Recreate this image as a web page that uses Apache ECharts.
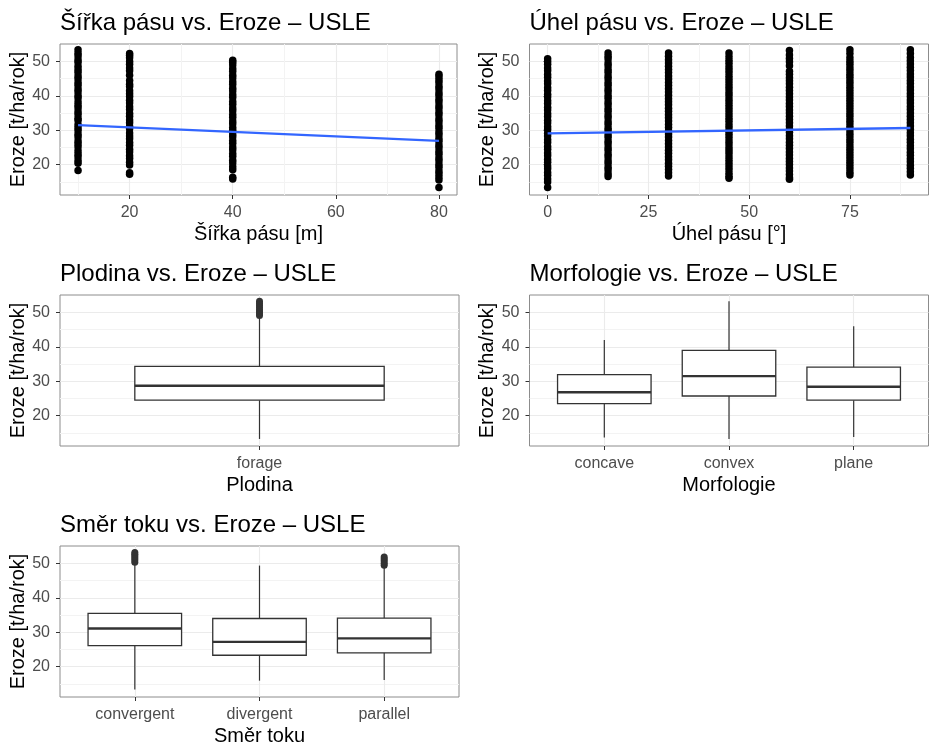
<!DOCTYPE html>
<html>
<head>
<meta charset="utf-8">
<script src="https://cdn.jsdelivr.net/npm/echarts@6/dist/echarts.min.js"></script>
<style>
  html, body { margin: 0; padding: 0; background: #fff; }
  #chart { width: 934px; height: 747px; }
</style>
</head>
<body>
<div id="chart"></div>
<script>
// ---- data ----
const widthLevels = [10, 20, 40, 80];
const erozeW10 = [18.3, 20.4, 21.2, 22.3, 23.1, 24.0, 25.2, 26.1, 26.9, 28.0, 28.8, 29.9, 30.7, 31.6, 32.8, 33.5, 34.6, 35.4, 36.5, 37.3, 38.2, 39.4, 40.1, 41.2, 42.0, 43.1, 43.9, 45.0, 45.8, 46.9, 47.7, 48.6, 49.8, 50.5, 51.6, 52.4, 53.4];
const erozeW20 = [17.2, 17.6, 19.9, 20.7, 21.8, 22.6, 23.7, 24.5, 25.6, 26.4, 27.5, 28.3, 29.2, 30.4, 31.1, 32.2, 33.0, 34.1, 34.9, 36.0, 36.8, 37.9, 38.7, 39.8, 40.6, 41.5, 42.7, 43.4, 44.5, 46.0, 47.3, 48.1, 49.2, 50.0, 51.1, 51.8, 52.3];
const erozeW40 = [15.8, 16.3, 18.5, 19.4, 20.5, 21.3, 22.4, 23.2, 24.3, 25.1, 26.2, 27.0, 28.1, 28.9, 30.0, 30.8, 31.9, 32.7, 33.8, 34.6, 35.7, 36.5, 37.6, 38.4, 39.5, 40.3, 41.4, 42.2, 43.3, 44.1, 45.2, 46.0, 47.1, 47.9, 49.0, 49.8, 50.4];
const erozeW80 = [13.3, 15.5, 16.4, 17.3, 18.1, 19.2, 20.0, 21.1, 21.9, 23.0, 23.8, 24.9, 25.7, 26.8, 27.6, 28.7, 29.5, 30.6, 31.4, 32.5, 33.3, 34.4, 35.2, 36.3, 37.1, 38.2, 39.0, 40.1, 40.9, 42.0, 42.8, 43.9, 44.7, 45.6, 46.3];
const widthFit = [[10, 31.5], [80, 26.9]];

const angleLevels = [0, 15, 30, 45, 60, 75, 90];
const erozeA0 = [13.3, 14.9, 15.8, 16.9, 17.7, 18.8, 19.6, 20.7, 21.5, 22.6, 23.4, 24.5, 25.3, 26.4, 27.2, 28.3, 29.1, 30.2, 31.0, 32.1, 32.9, 34.0, 34.8, 35.9, 36.7, 37.8, 38.6, 39.7, 40.5, 41.6, 42.4, 43.5, 44.3, 45.4, 46.2, 47.3, 48.1, 49.2, 50.0, 50.8];
const erozeA15 = [16.5, 17.3, 18.4, 19.2, 20.3, 21.1, 22.2, 23.0, 24.1, 24.9, 26.0, 26.8, 27.9, 28.7, 29.8, 30.6, 31.7, 32.5, 33.6, 34.4, 35.5, 36.3, 37.4, 38.2, 39.3, 40.1, 41.2, 42.0, 43.1, 43.9, 45.0, 45.8, 46.9, 47.7, 48.8, 49.6, 50.7, 51.5, 52.5];
const erozeA30 = [16.7, 17.6, 18.6, 19.5, 20.4, 21.4, 22.3, 23.3, 24.2, 25.1, 26.1, 27.0, 28.0, 28.9, 29.8, 30.8, 31.7, 32.7, 33.6, 34.5, 35.5, 36.4, 37.4, 38.3, 39.2, 40.2, 41.1, 42.1, 43.0, 43.9, 44.9, 45.8, 46.8, 47.7, 48.6, 49.6, 50.5, 51.5, 52.5];
const erozeA45 = [16.0, 16.6, 17.5, 18.5, 19.4, 20.3, 21.3, 22.2, 23.2, 24.1, 25.0, 26.0, 26.9, 27.9, 28.8, 29.7, 30.7, 31.6, 32.6, 33.5, 34.4, 35.4, 36.3, 37.3, 38.2, 39.1, 40.1, 41.0, 42.0, 42.9, 43.8, 44.8, 45.7, 46.7, 47.6, 48.5, 49.5, 50.4, 51.4, 52.5];
const erozeA60 = [15.7, 16.2, 17.1, 18.1, 19.0, 20.0, 20.9, 21.8, 22.8, 23.7, 24.7, 25.6, 26.5, 27.5, 28.4, 29.4, 30.3, 31.2, 32.2, 33.1, 34.1, 35.0, 35.9, 36.9, 37.8, 38.8, 39.7, 40.6, 41.6, 42.5, 43.5, 44.4, 45.3, 46.3, 47.2, 48.8, 49.9, 50.9, 51.9, 53.2];
const erozeA75 = [17.0, 17.8, 18.8, 19.7, 20.7, 21.6, 22.6, 23.5, 24.5, 25.4, 26.4, 27.3, 28.3, 29.2, 30.2, 31.1, 32.1, 33.0, 34.0, 34.9, 35.9, 36.8, 37.8, 38.7, 39.7, 40.6, 41.6, 42.5, 43.5, 44.4, 45.4, 46.3, 47.3, 48.2, 49.2, 50.1, 51.1, 52.3, 53.4];
const erozeA90 = [17.0, 17.9, 18.9, 19.8, 20.8, 21.7, 22.7, 23.6, 24.6, 25.5, 26.5, 27.4, 28.4, 29.3, 30.3, 31.2, 32.2, 33.1, 34.1, 35.0, 36.0, 36.9, 37.9, 38.8, 39.8, 40.7, 41.7, 42.6, 43.6, 44.5, 45.5, 46.4, 47.4, 48.3, 49.3, 50.2, 51.2, 52.3, 53.4];
const angleFit = [[0, 29.1], [90, 30.65]];

// boxplots: [min, q1, median, q3, max]
const cropCats = ['forage'];
const cropBox = [[13.2, 24.5, 28.7, 34.3, 48.9]];
const cropOut = [[49.1, 49.7, 50.3, 50.9, 51.5, 52.1, 52.7, 53.3]];

const morphCats = ['concave', 'convex', 'plane'];
const morphBox = [[13.6, 23.5, 26.8, 31.9, 42.0], [13.2, 25.7, 31.5, 39.0, 53.3], [13.8, 24.5, 28.4, 34.1, 46.0]];

const flowCats = ['convergent', 'divergent', 'parallel'];
const flowBox = [[13.3, 26.1, 31.1, 35.5, 50.0], [15.9, 23.3, 27.2, 34.0, 49.4], [16.1, 24.0, 28.2, 34.1, 49.3]];
const flowOut = [[50.4, 51.0, 51.6, 52.2, 52.7, 53.2], [], [49.5, 50.1, 50.7, 51.3, 51.9]];

const yTicks = [20, 30, 40, 50];
const yMinor = [15, 25, 35, 45];
const widthTicks = [20, 40, 60, 80];
const widthMinor = [10, 30, 50, 70];
const angleTicks = [0, 25, 50, 75];
const angleMinor = [12.5, 37.5, 62.5, 87.5];

// ---- layout / style ----
const FONT = 'Liberation Sans, Arial, sans-serif';
const Y_MIN = 11.15, Y_MAX = 55.1;
const BOX_W = 0.75;

let grids = [], xAxes = [], yAxes = [], series = [], titles = [];

function tickAxis(g, min, max, ticks, labels, fmt) {
  return {
    type: 'value', gridIndex: g, min: min, max: max,
    axisLine: { show: false },
    axisTick: { show: true, length: 4, customValues: ticks, lineStyle: { color: '#333', width: 1 } },
    axisLabel: { customValues: labels, color: '#4d4d4d', fontSize: 16, margin: 10, fontFamily: FONT, formatter: fmt },
    splitLine: { show: true, lineStyle: { color: '#ebebeb', width: 1.1 } },
    nameLocation: 'middle',
    nameTextStyle: { color: '#000', fontSize: 20, fontFamily: FONT },
    nameMoveOverlap: false
  };
}

function minorAxis(g, min, max, ticks, pos) {
  return {
    type: 'value', gridIndex: g, min: min, max: max, position: pos,
    axisLine: { show: false },
    axisTick: { show: false, customValues: ticks },
    axisLabel: { show: false, customValues: ticks },
    splitLine: { show: true, lineStyle: { color: '#f3f3f3', width: 1 } }
  };
}

function addPanel(box, title, xa, xMinorTicks, xName) {
  const g = grids.length;
  grids.push({
    left: box[0], top: box[1], width: box[2], height: box[3],
    show: true, borderColor: '#8c8c8c', borderWidth: 1, backgroundColor: '#fff',
    containLabel: false, outerBoundsMode: 'none'
  });
  titles.push({
    text: title, left: box[0], top: box[1] - 32.5, padding: 0,
    textStyle: { color: '#000', fontSize: 24, fontWeight: 'normal', fontFamily: FONT }
  });
  const xi = xAxes.length;
  xa.name = xName;
  xa.nameGap = 29;
  xa.position = 'bottom';
  xAxes.push(xa);
  if (xMinorTicks) xAxes.push(minorAxis(g, xa.min, xa.max, xMinorTicks, 'top'));
  const yi = yAxes.length;
  const ya = tickAxis(g, Y_MIN, Y_MAX, yTicks, yTicks);
  ya.name = 'Eroze [t/ha/rok]';
  ya.nameGap = 32;
  ya.position = 'left';
  yAxes.push(ya);
  yAxes.push(minorAxis(g, Y_MIN, Y_MAX, yMinor, 'right'));
  return { x: xi, y: yi };
}

function pointsOf(levels, cols) {
  const out = [];
  cols.forEach((col, i) => col.forEach(v => out.push([levels[i], v])));
  return out;
}

function scatterPanel(ax, data, fit) {
  series.push({
    type: 'scatter', xAxisIndex: ax.x, yAxisIndex: ax.y, data: data,
    symbolSize: 7.5, itemStyle: { color: '#000', opacity: 1 }, silent: true
  });
  series.push({
    type: 'line', xAxisIndex: ax.x, yAxisIndex: ax.y, data: fit,
    symbol: 'none', lineStyle: { color: '#3366FF', width: 2.3 }, silent: true
  });
}

function renderBox(params, api) {
  const x = api.value(0);
  const left = api.coord([x - BOX_W / 2, api.value(2)]);
  const right = api.coord([x + BOX_W / 2, api.value(4)]);
  const mid = api.coord([x, api.value(3)]);
  const lo = api.coord([x, api.value(1)]);
  const hi = api.coord([x, api.value(5)]);
  const ln = { stroke: '#333', lineWidth: 1.2 };
  return {
    type: 'group',
    children: [
      { type: 'line', shape: { x1: lo[0], y1: lo[1], x2: lo[0], y2: left[1] }, style: ln },
      { type: 'line', shape: { x1: hi[0], y1: right[1], x2: hi[0], y2: hi[1] }, style: ln },
      { type: 'rect', shape: { x: left[0], y: right[1], width: right[0] - left[0], height: left[1] - right[1] },
        style: { fill: '#fff', stroke: '#333', lineWidth: 1.3 } },
      { type: 'line', shape: { x1: left[0], y1: mid[1], x2: right[0], y2: mid[1] }, style: { stroke: '#333', lineWidth: 2.4 } }
    ]
  };
}

function boxPanel(ax, boxes, outs) {
  series.push({
    type: 'custom', xAxisIndex: ax.x, yAxisIndex: ax.y, renderItem: renderBox, silent: true,
    encode: { x: 0, y: [1, 2, 3, 4, 5] },
    data: boxes.map((b, i) => [i + 1].concat(b))
  });
  if (outs) {
    series.push({
      type: 'scatter', xAxisIndex: ax.x, yAxisIndex: ax.y, silent: true,
      symbolSize: 7, itemStyle: { color: '#333', opacity: 1 },
      data: pointsOf(boxes.map((b, i) => i + 1), outs)
    });
  }
}

function catAxis(g, cats) {
  const pos = cats.map((c, i) => i + 1);
  return tickAxis(g, 0.4, cats.length + 0.6, pos, pos, v => cats[Math.round(v) - 1]);
}

// panel 1: width
let ax = addPanel([60, 44, 397, 151], 'Šířka pásu vs. Eroze – USLE',
  tickAxis(0, 6.5, 83.5, widthTicks, widthTicks), widthMinor, 'Šířka pásu [m]');
scatterPanel(ax, pointsOf(widthLevels, [erozeW10, erozeW20, erozeW40, erozeW80]), widthFit);

// panel 2: angle
ax = addPanel([529.5, 44, 399, 151], 'Úhel pásu vs. Eroze – USLE',
  tickAxis(1, -4.5, 94.5, angleTicks, angleTicks), angleMinor, 'Úhel pásu [°]');
scatterPanel(ax, pointsOf(angleLevels, [erozeA0, erozeA15, erozeA30, erozeA45, erozeA60, erozeA75, erozeA90]), angleFit);

// panel 3: crop
ax = addPanel([60, 295, 399, 151], 'Plodina vs. Eroze – USLE', catAxis(2, cropCats), null, 'Plodina');
boxPanel(ax, cropBox, cropOut);

// panel 4: morphology
ax = addPanel([529.5, 295, 399, 151], 'Morfologie vs. Eroze – USLE', catAxis(3, morphCats), null, 'Morfologie');
boxPanel(ax, morphBox, null);

// panel 5: flow direction
ax = addPanel([60, 546, 399, 151], 'Směr toku vs. Eroze – USLE', catAxis(4, flowCats), null, 'Směr toku');
boxPanel(ax, flowBox, flowOut);

const chart = echarts.init(document.getElementById('chart'), null, { renderer: 'canvas' });
chart.setOption({
  animation: false,
  backgroundColor: '#fff',
  textStyle: { fontFamily: FONT },
  title: titles,
  grid: grids,
  xAxis: xAxes,
  yAxis: yAxes,
  series: series
});
</script>
</body>
</html>
